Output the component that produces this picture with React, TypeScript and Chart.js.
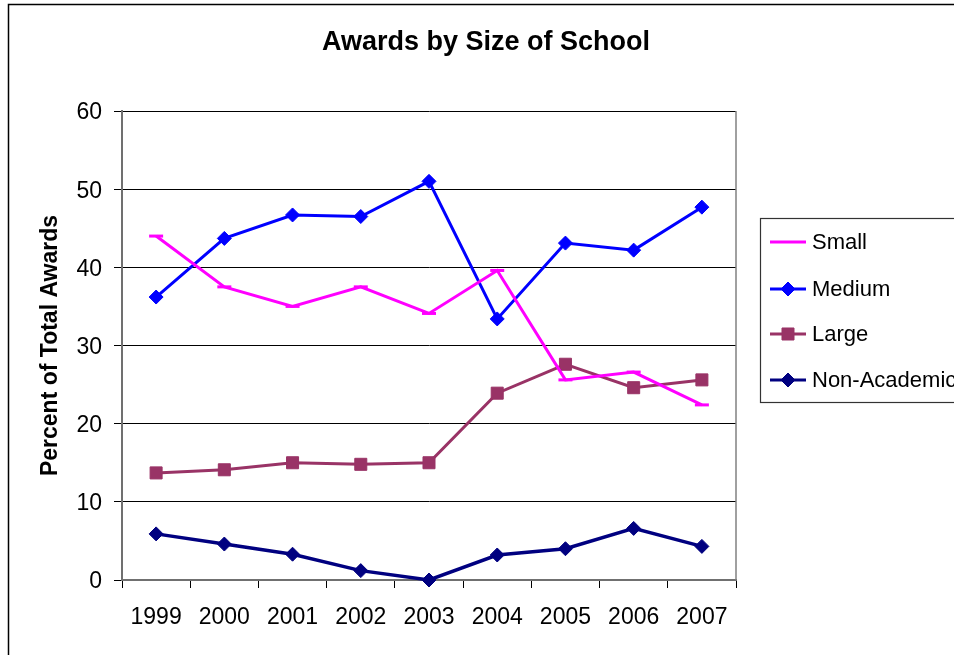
import React, { useEffect, useRef } from "react";
import { Chart, registerables } from "chart.js";

Chart.register(...registerables);

const years = ["1999", "2000", "2001", "2002", "2003", "2004", "2005", "2006", "2007"];
const small = [44.0, 37.5, 35.0, 37.5, 34.1, 39.6, 25.6, 26.6, 22.4];
const medium = [36.2, 43.7, 46.7, 46.5, 51.0, 33.4, 43.1, 42.2, 47.7];
const large = [13.7, 14.1, 15.0, 14.8, 15.0, 23.9, 27.6, 24.6, 25.6];
const nonAcademic = [5.9, 4.6, 3.3, 1.2, 0.0, 3.2, 4.0, 6.6, 4.3];
const seriesNames = ["Small", "Medium", "Large", "Non-Academic"];
const chartTitle = "Awards by Size of School";
const yAxisTitle = "Percent of Total Awards";

const FONT = "'Liberation Sans', Arial, sans-serif";
const W = 1000;
const H = 680;
const PLOT_LEFT = 122;
const PLOT_RIGHT = 736;
const PLOT_TOP = 111;
const PLOT_BOTTOM = 580;

function drawMarker(ctx: CanvasRenderingContext2D, style: string, x: number, y: number, r: number, color: string) {
  ctx.save();
  ctx.fillStyle = color;
  ctx.strokeStyle = color;
  ctx.beginPath();
  if (style === "rectRot") {
    ctx.moveTo(x - r, y);
    ctx.lineTo(x, y - r);
    ctx.lineTo(x + r, y);
    ctx.lineTo(x, y + r);
    ctx.closePath();
    ctx.lineWidth = 1;
    ctx.fill();
    ctx.stroke();
  } else if (style === "rect") {
    const s = r * Math.SQRT1_2;
    ctx.rect(x - s, y - s, 2 * s, 2 * s);
    ctx.lineWidth = 1;
    ctx.fill();
    ctx.stroke();
  } else if (style === "line") {
    ctx.moveTo(x - r, y);
    ctx.lineTo(x + r, y);
    ctx.lineWidth = 3;
    ctx.stroke();
  }
  ctx.restore();
}

const decorPlugin = {
  id: "decor",
  beforeDatasetsDraw(chart: any) {
    const ctx = chart.ctx as CanvasRenderingContext2D;
    const a = chart.chartArea;
    ctx.save();
    ctx.strokeStyle = "#808080";
    ctx.lineWidth = 1.5;
    ctx.beginPath();
    ctx.moveTo(a.right, a.top);
    ctx.lineTo(a.right, a.bottom);
    ctx.stroke();
    ctx.restore();
  },
  afterDraw(chart: any) {
    const ctx = chart.ctx as CanvasRenderingContext2D;
    ctx.save();
    // outer border
    ctx.strokeStyle = "#000";
    ctx.lineWidth = 1.5;
    ctx.strokeRect(8.5, 4.5, W - 20, H - 10);
    // title
    ctx.fillStyle = "#000";
    ctx.font = `bold 27px ${FONT}`;
    ctx.textAlign = "center";
    ctx.textBaseline = "middle";
    ctx.fillText(chartTitle, 486, 43);
    // y title
    ctx.save();
    ctx.translate(51, (PLOT_TOP + PLOT_BOTTOM) / 2);
    ctx.rotate(-Math.PI / 2);
    ctx.font = `bold 23px ${FONT}`;
    ctx.fillText(yAxisTitle, 0, 0);
    ctx.restore();
    // legend
    ctx.strokeStyle = "#333";
    ctx.lineWidth = 1.2;
    ctx.strokeRect(760.5, 218.5, 400, 184);
    const ys = [242, 289, 334, 380];
    chart.data.datasets.forEach((ds: any, i: number) => {
      const y = ys[i];
      ctx.strokeStyle = ds.borderColor;
      ctx.lineWidth = 3;
      ctx.beginPath();
      ctx.moveTo(770, y);
      ctx.lineTo(806, y);
      ctx.stroke();
      if (ds.pointStyle !== "line") {
        drawMarker(ctx, ds.pointStyle, 788, y, ds.pointRadius, ds.borderColor);
      }
      ctx.fillStyle = "#000";
      ctx.font = `22px ${FONT}`;
      ctx.textAlign = "left";
      ctx.textBaseline = "middle";
      ctx.fillText(ds.label, 812, y + 1);
    });
    ctx.restore();
  },
};

export default function App() {
  const ref = useRef<HTMLCanvasElement | null>(null);
  useEffect(() => {
    if (!ref.current) return;
    const mk = (label: string, data: number[], color: string, pointStyle: string, radius: number, pbw: number, bw: number) => ({
      label,
      data,
      borderColor: color,
      backgroundColor: color,
      pointBackgroundColor: color,
      pointBorderColor: color,
      borderWidth: bw,
      pointStyle,
      pointRadius: radius,
      pointBorderWidth: pbw,
      tension: 0,
      clip: false as any,
    });
    const chart = new Chart(ref.current, {
      type: "line",
      data: {
        labels: years,
        datasets: [
          mk(seriesNames[0], small, "#FF00FF", "line", 7, 3, 3),
          mk(seriesNames[1], medium, "#0000FF", "rectRot", 7, 1, 3),
          mk(seriesNames[2], large, "#993366", "rect", 8.5, 1, 3),
          mk(seriesNames[3], nonAcademic, "#000080", "rectRot", 7, 1, 3.5),
        ],
      },
      options: {
        responsive: false,
        animation: false,
        devicePixelRatio: 1,
        layout: { autoPadding: false, padding: { left: 0, top: PLOT_TOP, right: W - PLOT_RIGHT, bottom: 0 } },
        plugins: { legend: { display: false }, title: { display: false }, tooltip: { enabled: false } },
        scales: {
          x: {
            type: "category",
            offset: true,
            grid: { display: true, offset: true, drawOnChartArea: false, drawTicks: true, tickLength: 8, color: "#000", lineWidth: 1 },
            border: { display: true, color: "#707070", width: 2 },
            ticks: { color: "#000", font: { family: FONT, size: 23 }, padding: 16, maxRotation: 0, autoSkip: false },
            afterFit: (s: any) => { s.height = H - PLOT_BOTTOM; },
          },
          y: {
            min: 0,
            max: 60,
            ticks: { stepSize: 10, color: "#000", font: { family: FONT, size: 23 }, padding: 12, labelOffset: 2 },
            grid: { color: "#000", lineWidth: 1, drawTicks: true, tickLength: 8 },
            border: { display: true, color: "#707070", width: 2 },
            afterFit: (s: any) => { s.width = PLOT_LEFT; },
          },
        },
      },
      plugins: [decorPlugin],
    });
    return () => chart.destroy();
  }, []);
  return (
    <div style={{ position: "absolute", left: 0, top: 0, width: 954, height: 655, overflow: "hidden", background: "#fff" }}>
      <canvas ref={ref} width={W} height={H} style={{ display: "block", width: W, height: H }} />
    </div>
  );
}
